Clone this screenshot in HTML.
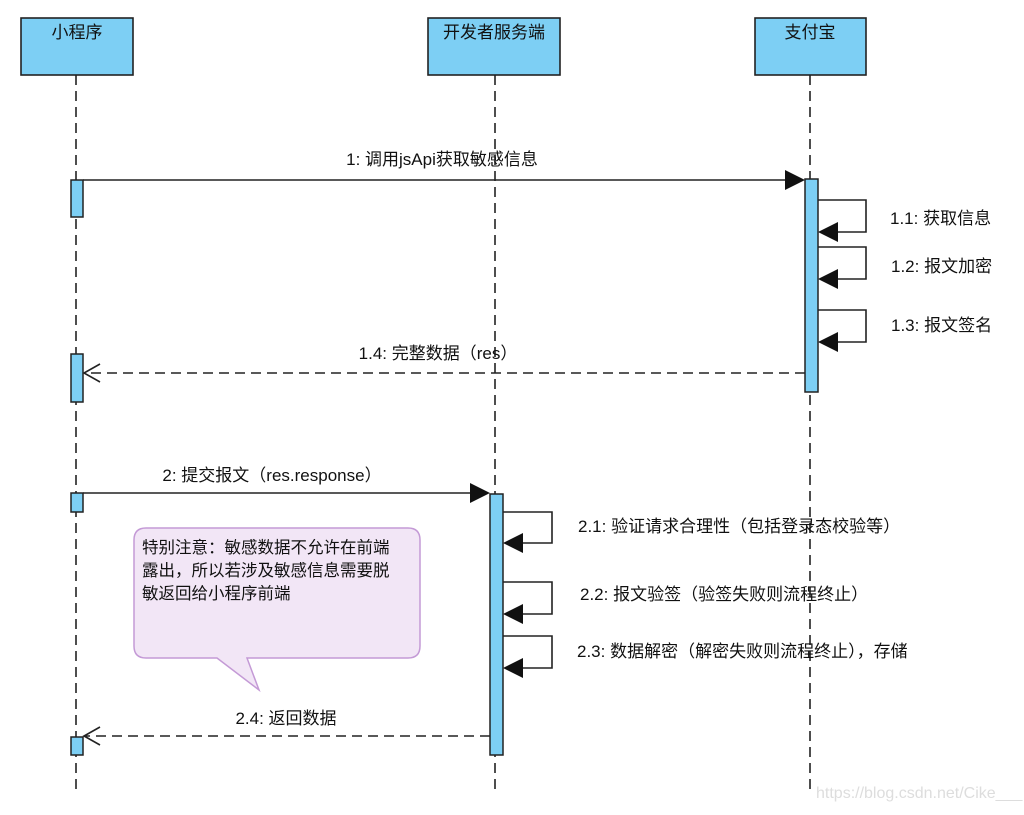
<!DOCTYPE html>
<html><head><meta charset="utf-8"><style>
html,body{margin:0;padding:0;background:#fff;}
svg text{font-family:"Liberation Sans","Noto Sans CJK SC",sans-serif;font-size:17px;fill:#111;}
</style></head><body>
<svg width="1024" height="810" viewBox="0 0 1024 810" xmlns="http://www.w3.org/2000/svg">
<g stroke="#222" stroke-width="1.6" stroke-dasharray="10,6" fill="none">
<line x1="76" y1="75" x2="76" y2="790"/>
<line x1="495" y1="75" x2="495" y2="790"/>
<line x1="810" y1="75" x2="810" y2="790"/>
</g>
<g fill="#7dcff4" stroke="#222" stroke-width="1.6">
<rect x="21" y="18" width="112" height="57"/>
<rect x="428" y="18" width="132" height="57"/>
<rect x="755" y="18" width="111" height="57"/>
</g>
<text x="77" y="38" text-anchor="middle">小程序</text>
<text x="494" y="38" text-anchor="middle">开发者服务端</text>
<text x="810" y="38" text-anchor="middle">支付宝</text>

<path d="M146,528 H408 Q420,528 420,540 V646 Q420,658 408,658 H247 L259,690 L217,658 H146 Q134,658 134,646 V540 Q134,528 146,528 Z" fill="#f2e6f6" stroke="#c49ad6" stroke-width="1.5"/>
<text x="142" y="553" style="font-size:16.5px">特别注意：敏感数据不允许在前端</text>
<text x="142" y="576" style="font-size:16.5px">露出，所以若涉及敏感信息需要脱</text>
<text x="142" y="599" style="font-size:16.5px">敏返回给小程序前端</text>

<g stroke="#222" stroke-width="1.6" fill="none">
<line x1="83" y1="180" x2="790" y2="180"/>
<line x1="805" y1="373" x2="84" y2="373" stroke-dasharray="10,6"/>
<polyline points="100,364 84,373 100,382"/>
<line x1="83" y1="493" x2="472" y2="493"/>
<line x1="490" y1="736" x2="84" y2="736" stroke-dasharray="10,6"/>
<polyline points="100,727 84,736 100,745"/>
<polyline points="818,200 866,200 866,232 836,232"/>
<polyline points="818,247 866,247 866,279 836,279"/>
<polyline points="818,310 866,310 866,342 836,342"/>
<polyline points="503,512 552,512 552,543 522,543"/>
<polyline points="503,582 552,582 552,614 522,614"/>
<polyline points="503,636 552,636 552,668 522,668"/>
</g>
<g fill="#111">
<polygon points="805,180 785,170 785,190"/>
<polygon points="490,493 470,483 470,503"/>
<polygon points="818,232 838,222 838,242"/>
<polygon points="818,279 838,269 838,289"/>
<polygon points="818,342 838,332 838,352"/>
<polygon points="503,543 523,533 523,553"/>
<polygon points="503,614 523,604 523,624"/>
<polygon points="503,668 523,658 523,678"/>
</g>
<g fill="#7dcff4" stroke="#222" stroke-width="1.5">
<rect x="71" y="180" width="12" height="37"/>
<rect x="71" y="354" width="12" height="48"/>
<rect x="71" y="493" width="12" height="19"/>
<rect x="71" y="737" width="12" height="18"/>
<rect x="805" y="179" width="13" height="213"/>
<rect x="490" y="494" width="13" height="261"/>
</g>
<text x="442" y="165" text-anchor="middle">1: 调用jsApi获取敏感信息</text>
<text x="438" y="359" text-anchor="middle">1.4: 完整数据（res）</text>
<text x="272" y="481" text-anchor="middle">2: 提交报文（res.response）</text>
<text x="286" y="724" text-anchor="middle">2.4: 返回数据</text>
<text x="890" y="224">1.1: 获取信息</text>
<text x="891" y="272">1.2: 报文加密</text>
<text x="891" y="331">1.3: 报文签名</text>
<text x="578" y="532">2.1: 验证请求合理性（包括登录态校验等）</text>
<text x="580" y="600">2.2: 报文验签（验签失败则流程终止）</text>
<text x="577" y="657">2.3: 数据解密（解密失败则流程终止），存储</text>
<text x="816" y="798" style="fill:#ddd;font-size:16px">https://blog.csdn.net/Cike___</text>
</svg>
</body></html>
